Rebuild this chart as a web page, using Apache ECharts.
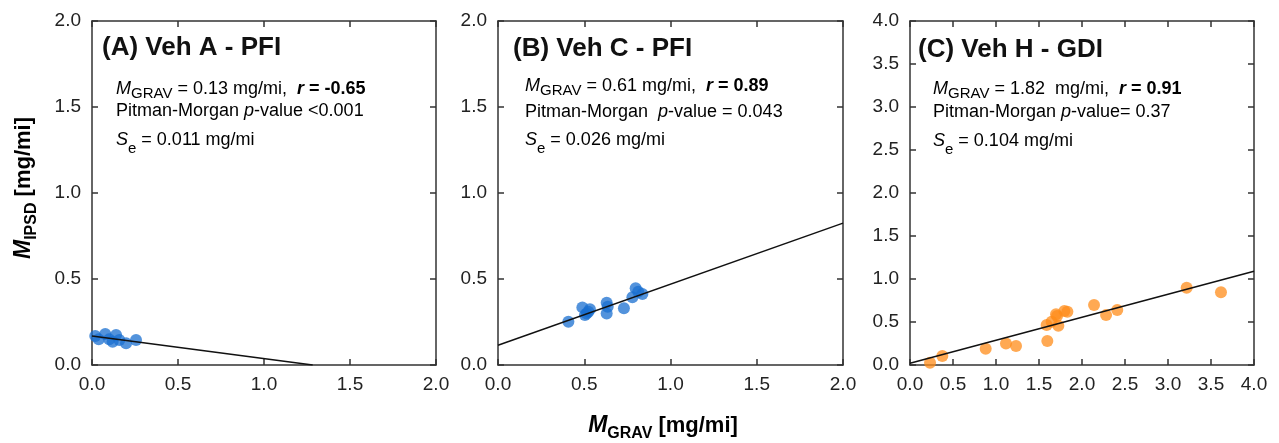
<!DOCTYPE html>
<html>
<head>
<meta charset="utf-8">
<script src="https://cdn.jsdelivr.net/npm/echarts@6/dist/echarts.min.js"></script>
<style>
  html, body { margin: 0; padding: 0; background: #fff; }
  #chart { width: 1279px; height: 443px; }
</style>
</head>
<body>
<div id="chart"></div>
<script>
// Measured mass [x = M_GRAV, y = M_IPSD] in mg/mi for each vehicle
const vehA = [
  [0.019, 0.169], [0.039, 0.149], [0.077, 0.180], [0.100, 0.149], [0.120, 0.135],
  [0.140, 0.174], [0.159, 0.145], [0.198, 0.126], [0.256, 0.145]
];
const vehC = [
  [0.408, 0.252], [0.489, 0.335], [0.504, 0.290], [0.514, 0.300], [0.524, 0.310],
  [0.533, 0.324], [0.630, 0.300], [0.630, 0.362], [0.636, 0.339], [0.730, 0.330],
  [0.779, 0.394], [0.798, 0.446], [0.813, 0.426], [0.837, 0.413]
];
const vehH = [
  [0.233, 0.027], [0.376, 0.105], [0.880, 0.190], [1.116, 0.250], [1.233, 0.220],
  [1.597, 0.279], [1.589, 0.465], [1.647, 0.504], [1.725, 0.457], [1.698, 0.589],
  [1.710, 0.570], [1.795, 0.628], [1.830, 0.620], [2.140, 0.698], [2.280, 0.580],
  [2.410, 0.640], [3.217, 0.899], [3.616, 0.845]
];

// Regression line end points
const fitA = [[0, 0.168], [1.283, 0]];
const fitC = [[0, 0.115], [2.0, 0.825]];
const fitH = [[0, 0.02], [4.0, 1.09]];

// Axis ranges and tick step
const axisMax = [2.0, 2.0, 4.0];
const tickStep = 0.5;

const panelTitles = ['(A) Veh A - PFI', '(B) Veh C - PFI', '(C) Veh H - GDI'];
const statLines = [
  ['{mi|M}{sub|GRAV}{n| = 0.13 mg/mi,  }{bi|r}{b| = -0.65}',
   '{n|Pitman-Morgan }{mi|p}{n|-value <0.001}',
   '{mi|S}{sub|e}{n| = 0.011 mg/mi}'],
  ['{mi|M}{sub|GRAV}{n| = 0.61 mg/mi,  }{bi|r}{b| = 0.89}',
   '{n|Pitman-Morgan  }{mi|p}{n|-value = 0.043}',
   '{mi|S}{sub|e}{n| = 0.026 mg/mi}'],
  ['{mi|M}{sub|GRAV}{n| = 1.82  mg/mi,  }{bi|r}{b| = 0.91}',
   '{n|Pitman-Morgan }{mi|p}{n|-value= 0.37}',
   '{mi|S}{sub|e}{n| = 0.104 mg/mi}']
];

const FONT = "'Liberation Sans', Arial, sans-serif";
const BLUE = '#1a6fd0';
const ORANGE = '#ff8c1a';

const grids = [
  { left: 92, right: 843, top: 21, bottom: 78 },
  { left: 498, right: 436, top: 21, bottom: 78 },
  { left: 910, right: 25, top: 21, bottom: 78 }
];

const lineStyle = { color: '#333', width: 1.5 };
const tickBase = { show: true, inside: true, length: 6, lineStyle: { color: '#333', width: 1.5 } };
const labelBase = {
  fontFamily: FONT, fontSize: 19, color: '#222',
  formatter: v => v.toFixed(1)
};

const xAxis = [], yAxis = [];
grids.forEach((g, i) => {
  const max = axisMax[i];
  xAxis.push({
    type: 'value', gridIndex: i, min: 0, max: max, interval: tickStep, position: 'bottom',
    axisLine: { show: true, onZero: false, lineStyle }, axisTick: tickBase,
    axisLabel: Object.assign({ margin: 10 }, labelBase), splitLine: { show: false }
  });
  xAxis.push({
    type: 'value', gridIndex: i, min: 0, max: max, interval: tickStep, position: 'top',
    axisLine: { show: true, onZero: false, lineStyle }, axisTick: tickBase,
    axisLabel: { show: false }, splitLine: { show: false }
  });
  yAxis.push({
    type: 'value', gridIndex: i, min: 0, max: max, interval: tickStep, position: 'left',
    axisLine: { show: true, onZero: false, lineStyle }, axisTick: tickBase,
    axisLabel: Object.assign({ margin: 11 }, labelBase), splitLine: { show: false }
  });
  yAxis.push({
    type: 'value', gridIndex: i, min: 0, max: max, interval: tickStep, position: 'right',
    axisLine: { show: true, onZero: false, lineStyle }, axisTick: tickBase,
    axisLabel: { show: false }, splitLine: { show: false }
  });
});

const pointSets = [vehA, vehC, vehH];
const fits = [fitA, fitC, fitH];
const colors = [BLUE, BLUE, ORANGE];
const series = [];
pointSets.forEach((pts, i) => {
  series.push({
    type: 'scatter', xAxisIndex: i * 2, yAxisIndex: i * 2, data: pts,
    symbol: 'circle', symbolSize: 12,
    itemStyle: { color: colors[i], opacity: 0.75 }, z: 2
  });
  series.push({
    type: 'line', xAxisIndex: i * 2, yAxisIndex: i * 2, data: fits[i],
    showSymbol: false, symbol: 'none', clip: true,
    lineStyle: { color: '#111', width: 1.5 }, z: 3
  });
});

const statRich = {
  n: { fontFamily: FONT, fontSize: 18, color: '#111', lineHeight: 24 },
  mi: { fontFamily: FONT, fontSize: 18, fontStyle: 'italic', color: '#111', lineHeight: 24 },
  bi: { fontFamily: FONT, fontSize: 18, fontStyle: 'italic', fontWeight: 'bold', color: '#111', lineHeight: 24 },
  b: { fontFamily: FONT, fontSize: 18, fontWeight: 'bold', color: '#111', lineHeight: 24 },
  sub: { fontFamily: FONT, fontSize: 15, color: '#111', lineHeight: 15, verticalAlign: 'bottom' }
};
// the S_e line drops its subscript a little further
const seRich = {
  n: Object.assign({}, statRich.n, { lineHeight: 32 }),
  mi: Object.assign({}, statRich.mi, { lineHeight: 32 }),
  sub: statRich.sub
};

// Text placement per panel: title x, stats x, title baseline, stats baselines
const textPos = [
  { tx: 102, sx: 116, tb: 57, sb: [95, 117, 146] },
  { tx: 513, sx: 525, tb: 58, sb: [92, 118, 146] },
  { tx: 918, sx: 933, tb: 59, sb: [95, 118, 147] }
];

const graphic = [];
textPos.forEach((p, i) => {
  graphic.push({
    type: 'text', x: p.tx, y: p.tb - 9, z: 10,
    style: {
      text: panelTitles[i], fontFamily: FONT, fontSize: 26, fontWeight: 'bold',
      fill: '#111', align: 'left', verticalAlign: 'middle'
    }
  });
  statLines[i].forEach((txt, k) => {
    graphic.push({
      type: 'text', x: p.sx, y: p.sb[k] - 6, z: 10,
      style: {
        text: txt, rich: k === 2 ? seRich : statRich,
        align: 'left', verticalAlign: 'middle'
      }
    });
  });
});

const titleRich = {
  bi: { fontFamily: FONT, fontSize: 23, fontStyle: 'italic', fontWeight: 'bold', color: '#111', lineHeight: 32 },
  b: { fontFamily: FONT, fontSize: 22, fontWeight: 'bold', color: '#111', lineHeight: 32 },
  bs: { fontFamily: FONT, fontSize: 16, fontWeight: 'bold', color: '#111', lineHeight: 16, verticalAlign: 'bottom' }
};
graphic.push({
  type: 'text', x: 663, y: 426, z: 10,
  style: { text: '{bi|M}{bs|GRAV}{b| [mg/mi]}', rich: titleRich, align: 'center', verticalAlign: 'middle' }
});
graphic.push({
  type: 'text', x: 24, y: 188, rotation: Math.PI / 2, z: 10,
  style: { text: '{bi|M}{bs|IPSD}{b| [mg/mi]}', rich: titleRich, align: 'center', verticalAlign: 'middle' }
});

const chart = echarts.init(document.getElementById('chart'), null, { renderer: 'canvas' });
chart.setOption({
  animation: false,
  backgroundColor: '#fff',
  grid: grids,
  xAxis: xAxis,
  yAxis: yAxis,
  series: series,
  graphic: graphic
});
</script>
</body>
</html>
